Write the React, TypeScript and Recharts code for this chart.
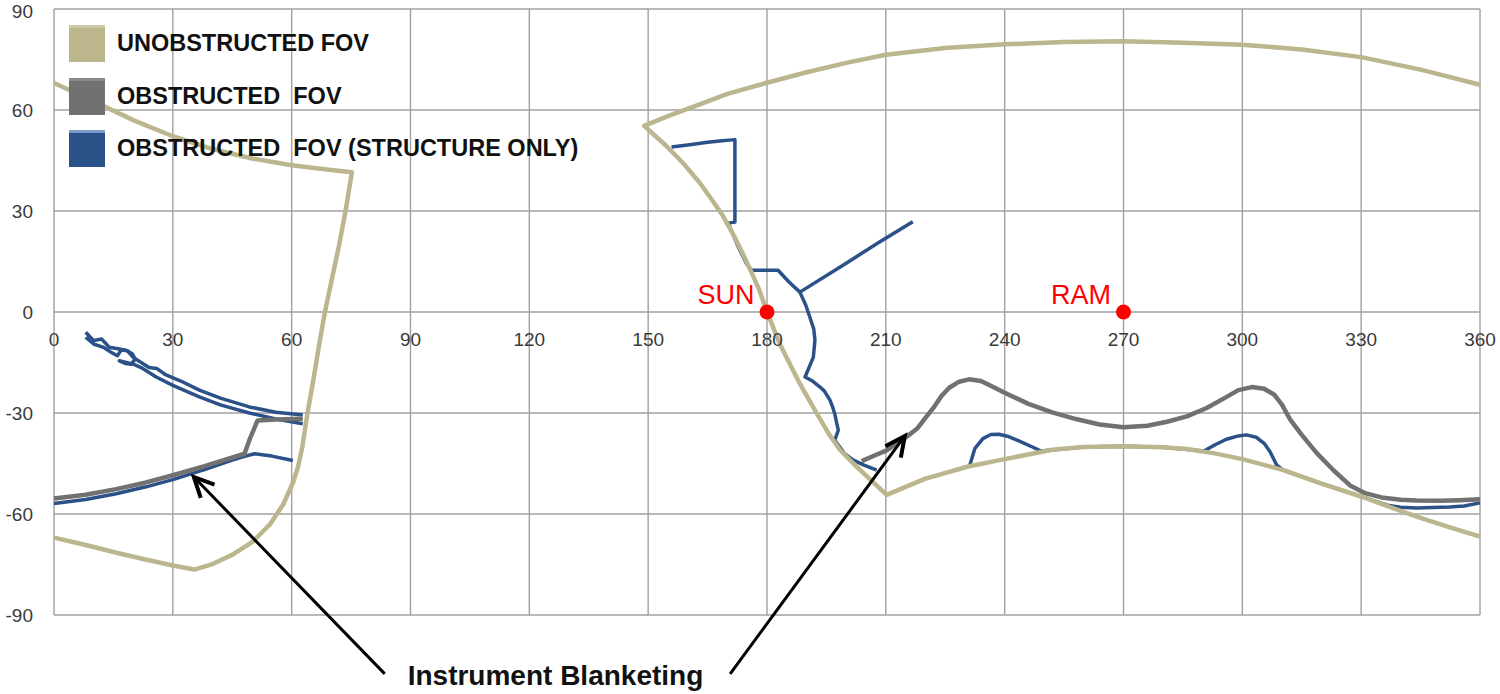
import React from "react";
import {
  ComposedChart,
  Line,
  XAxis,
  YAxis,
  CartesianGrid,
  ReferenceDot,
  ReferenceLine,
} from "recharts";

type Pt = [number, number];

// axis ticks
const xTicks = [0, 30, 60, 90, 120, 150, 180, 210, 240, 270, 300, 330, 360];
const yTicks = [-90, -60, -30, 0, 30, 60, 90];

// unobstructed field of view (azimuth, elevation)
const unobstructedLeft: Pt[] = [
  [0, 68], [10, 62.6], [20, 57], [30, 52.2], [40, 48.4], [50, 45.6], [60, 43.6], [70, 42.2], [75.2, 41.5],
  [73.6, 30], [72, 20], [70.2, 10], [68.4, 0], [66.9, -10], [65.5, -20], [64, -30], [62.7, -40],
  [61.6, -46], [60.4, -50.5], [57.9, -57.1], [54.5, -63.1], [50.3, -68.1], [45.2, -72],
  [40.2, -74.8], [35.4, -76.5], [30, -75.3], [22, -73.2], [15.8, -71.5], [8, -69.2], [0, -67],
];

const unobstructedRight: Pt[] = [
  [360, 67.5], [345, 72], [330, 75.7], [315, 78], [300, 79.4], [285, 80], [270, 80.4], [255, 80.2],
  [240, 79.5], [225, 78.4], [210, 76.4], [200, 74], [190, 71.2], [180, 68.1], [170, 64.8], [162, 61.2],
  [155, 58.2], [149, 55.3],
  [154.6, 49.3], [159, 44], [163, 38.4], [166, 33.5], [168.9, 28.5], [171.5, 23], [173.9, 17.3], [176, 12],
  [178.1, 6.4], [180, 0], [183.2, -9.4], [186, -16], [188.3, -21.3], [192.5, -30], [195.5, -36],
  [198.4, -40.9], [201.8, -45], [205.1, -48.7], [210.2, -54.3], [220, -49.5], [230.8, -45.9], [240, -43.7],
  [252, -40.9], [260, -40.1], [270, -39.9], [280, -40.2], [286, -40.7], [293, -42], [300, -43.7],
  [310.2, -46.9], [319.8, -50.9], [330, -54.8], [337, -57.8], [344, -60.8], [352, -63.8], [360, -66.7],
];

// obstructed field of view
const obstructedLeft: Pt[] = [
  [0, -55.4], [8, -54.3], [15.7, -52.6], [23, -50.7], [30, -48.5], [38, -45.8], [48.1, -42.1],
  [49.5, -37.5], [51.4, -32.2], [56, -31.9], [62.8, -31.7],
];

const obstructedRight: Pt[] = [
  [203.9, -44.3], [207, -42.7], [210.2, -41.1], [213.4, -38.5], [215.2, -37.1], [218, -34.5],
  [220.3, -31], [222, -28.5], [224, -25], [226, -22.5], [228.5, -20.7], [231, -20], [234, -20.5],
  [237, -22.2], [240, -24], [246, -27.3], [252, -29.8], [258, -31.8], [264, -33.4], [270, -34.2],
  [276, -33.8], [281, -32.6], [286, -31], [291, -28.5], [295.6, -25.5], [299, -23.2], [302.4, -22.3],
  [305.5, -22.8], [308, -24.5], [310, -27.5], [312.1, -32], [315, -36.5], [318.8, -41.9], [323, -47],
  [327.2, -51.5], [331, -53.8], [335.6, -55.2], [340, -55.8], [344, -56], [350, -56.1], [355, -55.9],
  [360, -55.6],
];

// obstructed field of view, structure only
const structureBandUpper: Pt[] = [
  [8, -6], [10, -8.5], [12, -8], [14, -10.5], [16.5, -11], [18.5, -11.5], [20, -13.5], [24, -16.5],
  [26, -16.8], [28, -18.5], [32, -20.5], [36.7, -23.2], [42, -25.6], [49.3, -28.2], [56, -29.8], [62.8, -30.6],
];

const structureBandLower: Pt[] = [
  [8, -7.5], [10, -9.5], [12.5, -10.5], [14.5, -12], [16, -13], [17, -11.2], [18.5, -11.5], [19.8, -12.5],
  [20.5, -14], [19.5, -15.5], [18, -15.3], [16.5, -14.5], [20, -15.5], [22, -16.5], [25.8, -19.3],
  [30, -21.8], [36.7, -25.2], [42, -27.6], [49.3, -30], [56, -31.8], [62.8, -33.2],
];

const structureLowerLeft: Pt[] = [
  [0, -56.9], [8, -55.7], [15.7, -54], [23, -52], [30, -49.8], [38, -46.8], [45, -44], [48.1, -42.9],
  [50.6, -42.1], [55, -42.8], [60.3, -44.1],
];

const structureCenter: Pt[] = [
  [155.9, 49], [160, 49.6], [165, 50.4], [168, 50.8], [171.9, 51.2], [171.9, 40], [171.9, 26.7],
  [170.2, 26.4], [172.5, 20], [174.8, 14.4], [176.1, 12.4], [180, 12.4], [182.8, 12.4], [185.5, 9],
  [188.3, 5.9], [189.8, 2], [190.8, -1.5], [191.8, -5], [192.1, -8.4], [191.7, -13.4], [190.6, -16.5],
  [189.6, -19.3], [191.5, -20.5], [193.4, -22.3], [194.5, -23.5], [195.9, -26.2], [196.5, -28],
  [197.1, -30.2], [197.5, -32.5], [198, -35.1], [197.1, -38.1], [199.5, -42], [201.8, -44],
  [204.5, -45.5], [207.7, -47],
];

const structureBranch: Pt[] = [[188.3, 5.9], [200, 14.5], [208, 20.5], [216.8, 26.8]];

const structureRight: Pt[] = [
  [231.1, -45.9], [232.5, -40.5], [234.5, -37.6], [236.5, -36.4], [238.5, -36.3], [241, -37], [244, -38.5],
  [247, -40.1], [249.2, -41.3], [260, -40.1], [270, -39.9], [280, -40.2], [290.3, -41.3], [293, -39.5],
  [296, -37.8], [299, -36.8], [301, -36.5], [303.5, -37.2], [305.5, -39], [307, -41.5], [308.7, -45.5],
  [310.2, -46.9], [319.8, -50.9], [330, -54.8], [337, -57.5], [340, -58], [344, -58.2], [348, -58.1],
  [352.4, -57.9], [356, -57.6], [360, -56.7],
];

const series = [
  {
    name: "OBSTRUCTED  FOV (STRUCTURE ONLY)",
    color: "#2b5189",
    top: "#7d9cc9",
    width: 3.5,
    segments: [structureBandUpper, structureBandLower, structureLowerLeft, structureCenter, structureBranch, structureRight],
  },
  { name: "OBSTRUCTED  FOV", color: "#717171", top: "#8a8a8a", width: 4.5, segments: [obstructedLeft, obstructedRight] },
  { name: "UNOBSTRUCTED FOV", color: "#bbb68e", top: "#cfcaa6", width: 4.5, segments: [unobstructedLeft, unobstructedRight] },
];

const markers = [
  { x: 180, label: "SUN" },
  { x: 270, label: "RAM" },
];

const arrows: { from: Pt; to: Pt }[] = [
  { from: [83.5, -107.5], to: [35.3, -49] },
  { from: [170.7, -107.5], to: [214.8, -36.8] },
];

const noteText = "Instrument Blanketing";
const notePos: Pt = [126.6, -110.7];

const font = "'Liberation Sans', Arial, sans-serif";

const toRows = (pts: Pt[]) => pts.map(([x, y]) => ({ x, y }));

const Arrow = (props: any) => {
  const { x1, y1, x2, y2 } = props;
  const ang = Math.atan2(y2 - y1, x2 - x1);
  const len = 22;
  const spread = Math.PI / 7;
  const a = [x2 - len * Math.cos(ang - spread), y2 - len * Math.sin(ang - spread)];
  const b = [x2 - len * Math.cos(ang + spread), y2 - len * Math.sin(ang + spread)];
  return (
    <g>
      <line x1={x1} y1={y1} x2={x2} y2={y2} stroke="#000" strokeWidth={3} />
      <polyline
        points={`${a[0]},${a[1]} ${x2},${y2} ${b[0]},${b[1]}`}
        fill="none"
        stroke="#000"
        strokeWidth={4}
      />
    </g>
  );
};

export default function App() {
  const legendOrder = [...series].reverse();
  return (
    <div style={{ position: "absolute", left: 0, top: 0, width: 1500, height: 694, background: "#fff", fontFamily: font }}>
      <ComposedChart width={1500} height={694} margin={{ top: 9, right: 20, bottom: 79, left: 0 }}>
        <CartesianGrid stroke="#a0a0a0" strokeWidth={1.4} />
        <XAxis dataKey="x" type="number" domain={[0, 360]} ticks={xTicks} hide />
        <YAxis
          type="number"
          domain={[-90, 90]}
          ticks={yTicks}
          allowDataOverflow
          width={54}
          axisLine={false}
          tickLine={false}
          tickMargin={15}
          tick={{ fontSize: 19, fill: "#3a3a3a", fontFamily: font }}
        />

        {series.map((s) =>
          s.segments.map((seg, i) => (
            <Line
              key={`${s.name}-${i}`}
              data={toRows(seg)}
              dataKey="y"
              type="linear"
              stroke={s.color}
              strokeWidth={s.width}
              dot={false}
              activeDot={false}
              isAnimationActive={false}
              strokeLinejoin="round"
            />
          ))
        )}

        {xTicks.map((t) => (
          <ReferenceDot
            key={`xl-${t}`}
            x={t}
            y={0}
            r={0}
            fill="none"
            stroke="none"
            label={{ value: t, position: "bottom", offset: 21, fill: "#3a3a3a", fontSize: 19, fontFamily: font }}
          />
        ))}

        {markers.map((m) => (
          <ReferenceDot
            key={m.label}
            x={m.x}
            y={0}
            r={7.5}
            fill="#ff0000"
            stroke="none"
            label={{
              content: (p: any) => (
                <text
                  x={p.viewBox.x - 5}
                  y={p.viewBox.y - 1}
                  textAnchor="end"
                  fill="#ff0000"
                  fontSize={27}
                  fontFamily={font}
                >
                  {m.label}
                </text>
              ),
            }}
          />
        ))}

        {arrows.map((a, i) => (
          <ReferenceLine
            key={`arrow-${i}`}
            segment={[
              { x: a.from[0], y: a.from[1] },
              { x: a.to[0], y: a.to[1] },
            ]}
            ifOverflow="visible"
            shape={Arrow}
          />
        ))}

        <ReferenceDot
          x={notePos[0]}
          y={notePos[1]}
          r={0}
          fill="none"
          stroke="none"
          ifOverflow="visible"
          label={{
            content: (p: any) => (
              <text
                x={p.viewBox.x}
                y={p.viewBox.y}
                textAnchor="middle"
                fill="#111"
                fontSize={28}
                fontWeight="bold"
                fontFamily={font}
              >
                {noteText}
              </text>
            ),
          }}
        />
      </ComposedChart>

      <div style={{ position: "absolute", left: 69, top: 25 }}>
        {legendOrder.map((s) => (
          <div key={s.name} style={{ display: "flex", alignItems: "center", height: 37, marginBottom: 15.5 }}>
            <div
              style={{
                width: 36,
                height: 34,
                background: s.color,
                borderTop: `3px solid ${s.top}`,
              }}
            />
            <span
              style={{
                marginLeft: 12,
                fontSize: 23.5,
                fontWeight: "bold",
                color: "#111",
                whiteSpace: "pre",
              }}
            >
              {s.name}
            </span>
          </div>
        ))}
      </div>
    </div>
  );
}
